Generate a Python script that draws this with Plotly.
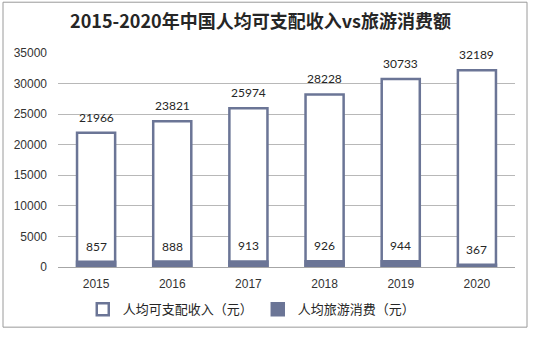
import plotly.graph_objects as go

# 数据
years = ["2015", "2016", "2017", "2018", "2019", "2020"]
income = [21966, 23821, 25974, 28228, 30733, 32189]
tourism = [857, 888, 913, 926, 944, 367]
y_ticks = [0, 5000, 10000, 15000, 20000, 25000, 30000, 35000]

BAR_COLOR = "#6b7596"
CJK = "Noto Sans CJK SC"

fig = go.Figure()
fig.add_trace(go.Bar(
    x=years, y=income, name="人均可支配收入（元）",
    width=0.5,
    marker=dict(color="white", line=dict(color=BAR_COLOR, width=2.5)),
))
fig.add_trace(go.Bar(
    x=years, y=tourism, name="人均旅游消费（元）",
    width=0.5,
    marker=dict(color=BAR_COLOR, line=dict(color=BAR_COLOR, width=2.5)),
))

# 数值标签（类目轴上按序号定位）
for series in (income, tourism):
    for i, v in enumerate(series):
        fig.add_annotation(
            x=i, y=v, text=str(v), showarrow=False,
            yanchor="bottom", yshift=6,
            font=dict(family="Lato, Liberation Sans", size=12, color="#262626"),
        )

# 外框
L, R, T, B = 58, 20, 53, 67
W, H = 535, 337
pw, ph = W - L - R, H - T - B
fig.add_shape(
    type="rect", xref="paper", yref="paper",
    x0=(3 - L) / pw, x1=(527 - L) / pw,
    y0=(H - B - 331) / ph, y1=(H - B - 1.5) / ph,
    line=dict(color="#9a9a9a", width=1), fillcolor="rgba(0,0,0,0)", layer="below",
)

fig.update_layout(
    width=W, height=H,
    margin=dict(l=L, r=R, t=T, b=B),
    barmode="overlay",
    paper_bgcolor="white", plot_bgcolor="white",
    title=dict(
        text="<b>2015-2020年中国人均可支配收入vs旅游消费额</b>",
        x=0.487, xanchor="center", y=1 - 22 / H, yanchor="middle",
        font=dict(family=CJK, size=18, color="#262626"),
    ),
    legend=dict(
        orientation="h", x=0.424, xanchor="center",
        y=(H - B - 313) / ph, yanchor="middle",
        font=dict(family=CJK, size=13, color="#262626"),
        bgcolor="rgba(0,0,0,0)",
    ),
    xaxis=dict(
        type="category", categoryorder="array", categoryarray=years,
        range=[-0.5, len(years) - 0.5],
        showgrid=False, showline=True, linecolor="#a6a6a6", linewidth=1,
        ticks="", ticklabelstandoff=6,
        tickfont=dict(family="Liberation Sans", size=12, color="#333333"),
    ),
    yaxis=dict(
        range=[0, 35000], tickvals=y_ticks, tickformat="d",
        showgrid=True, gridcolor="#b8b8b8", gridwidth=1,
        zeroline=False, showline=False, ticks="",
        ticklabelstandoff=10,
        tickfont=dict(family="Liberation Sans", size=12, color="#333333"),
    ),
)

fig.write_html("out.html")
